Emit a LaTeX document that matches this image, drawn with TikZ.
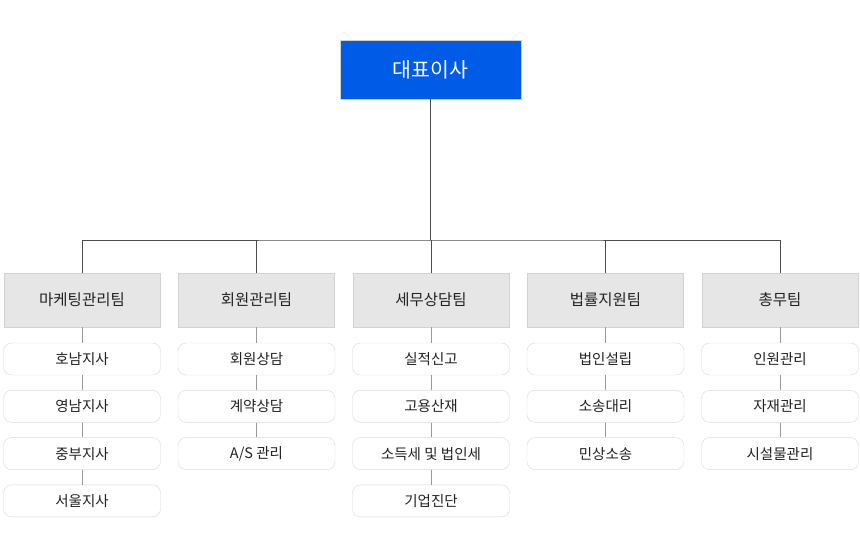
\documentclass[tikz,border=0pt]{standalone}
\usepackage{fontspec}
\setmainfont{Noto Sans CJK KR}
\definecolor{ceoblue}{HTML}{005BE6}
\definecolor{teamgray}{HTML}{E6E6E6}
\definecolor{teamline}{HTML}{D2D2D2}
\definecolor{subline}{HTML}{D8D8D8}
\definecolor{textdark}{HTML}{222222}
\definecolor{linkdark}{HTML}{4D4D4D}
\definecolor{linklight}{HTML}{9A9A9A}
\tikzset{
	ceo/.style={fill=ceoblue, draw=teamline, minimum width=181pt, minimum height=59pt, text=white, font=\fontsize{20.5}{22}\selectfont},
	team/.style={fill=teamgray, draw=teamline, minimum width=156pt, minimum height=54pt, text=textdark, font=\fontsize{15.5}{17}\selectfont},
	sub/.style={fill=white, draw=subline, rounded corners=8pt, minimum width=157pt, minimum height=32pt, text=textdark, font=\fontsize{14.5}{16}\selectfont},
	mainlink/.style={draw=linkdark, line width=0.9pt},
	sublink/.style={draw=linklight, line width=0.9pt}
}

\begin{document}
\begin{tikzpicture}[x=1pt,y=-1pt]
	\useasboundingbox (0,0) rectangle (860,548);

	% top
	\node[ceo] (ceo) at (430.5,69.5) {대표이사};
	\coordinate (bus) at (430.5,240);

	% teams
	\node[team, alias=s1-0] (t1) at (82,300) {마케팅관리팀};
	\node[team, alias=s2-0] (t2) at (256.5,300) {회원관리팀};
	\node[team, alias=s3-0] (t3) at (431,300) {세무상담팀};
	\node[team, alias=s4-0] (t4) at (605.5,300) {법률지원팀};
	\node[team, alias=s5-0] (t5) at (780,300) {총무팀};

	% bus lines
	\draw[mainlink] (ceo.south) -- (bus);
	\draw[mainlink] (t1.north) |- (bus) -| (t5.north);
	\foreach \t in {2,3,4}
		{
			\draw[mainlink] (t\t.north) -- (t\t.north |- bus);
		}

	% sub units
	\foreach \s [count=\j, remember=\j as \p (initially 0)] in {호남지사,영남지사,중부지사,서울지사}
		{
			\node[sub] (s1-\j) at (82,{359+47.3*(\j-1)}) {\s};
			\draw[sublink] (s1-\p) -- (s1-\j);
		}
	\foreach \s [count=\j, remember=\j as \p (initially 0)] in {회원상담,계약상담,A/S 관리}
		{
			\node[sub] (s2-\j) at (256.5,{359+47.3*(\j-1)}) {\s};
			\draw[sublink] (s2-\p) -- (s2-\j);
		}
	\foreach \s [count=\j, remember=\j as \p (initially 0)] in {실적신고,고용산재,소득세 및 법인세,기업진단}
		{
			\node[sub] (s3-\j) at (431,{359+47.3*(\j-1)}) {\s};
			\draw[sublink] (s3-\p) -- (s3-\j);
		}
	\foreach \s [count=\j, remember=\j as \p (initially 0)] in {법인설립,소송대리,민상소송}
		{
			\node[sub] (s4-\j) at (605.5,{359+47.3*(\j-1)}) {\s};
			\draw[sublink] (s4-\p) -- (s4-\j);
		}
	\foreach \s [count=\j, remember=\j as \p (initially 0)] in {인원관리,자재관리,시설물관리}
		{
			\node[sub] (s5-\j) at (780,{359+47.3*(\j-1)}) {\s};
			\draw[sublink] (s5-\p) -- (s5-\j);
		}
\end{tikzpicture}
\end{document}
